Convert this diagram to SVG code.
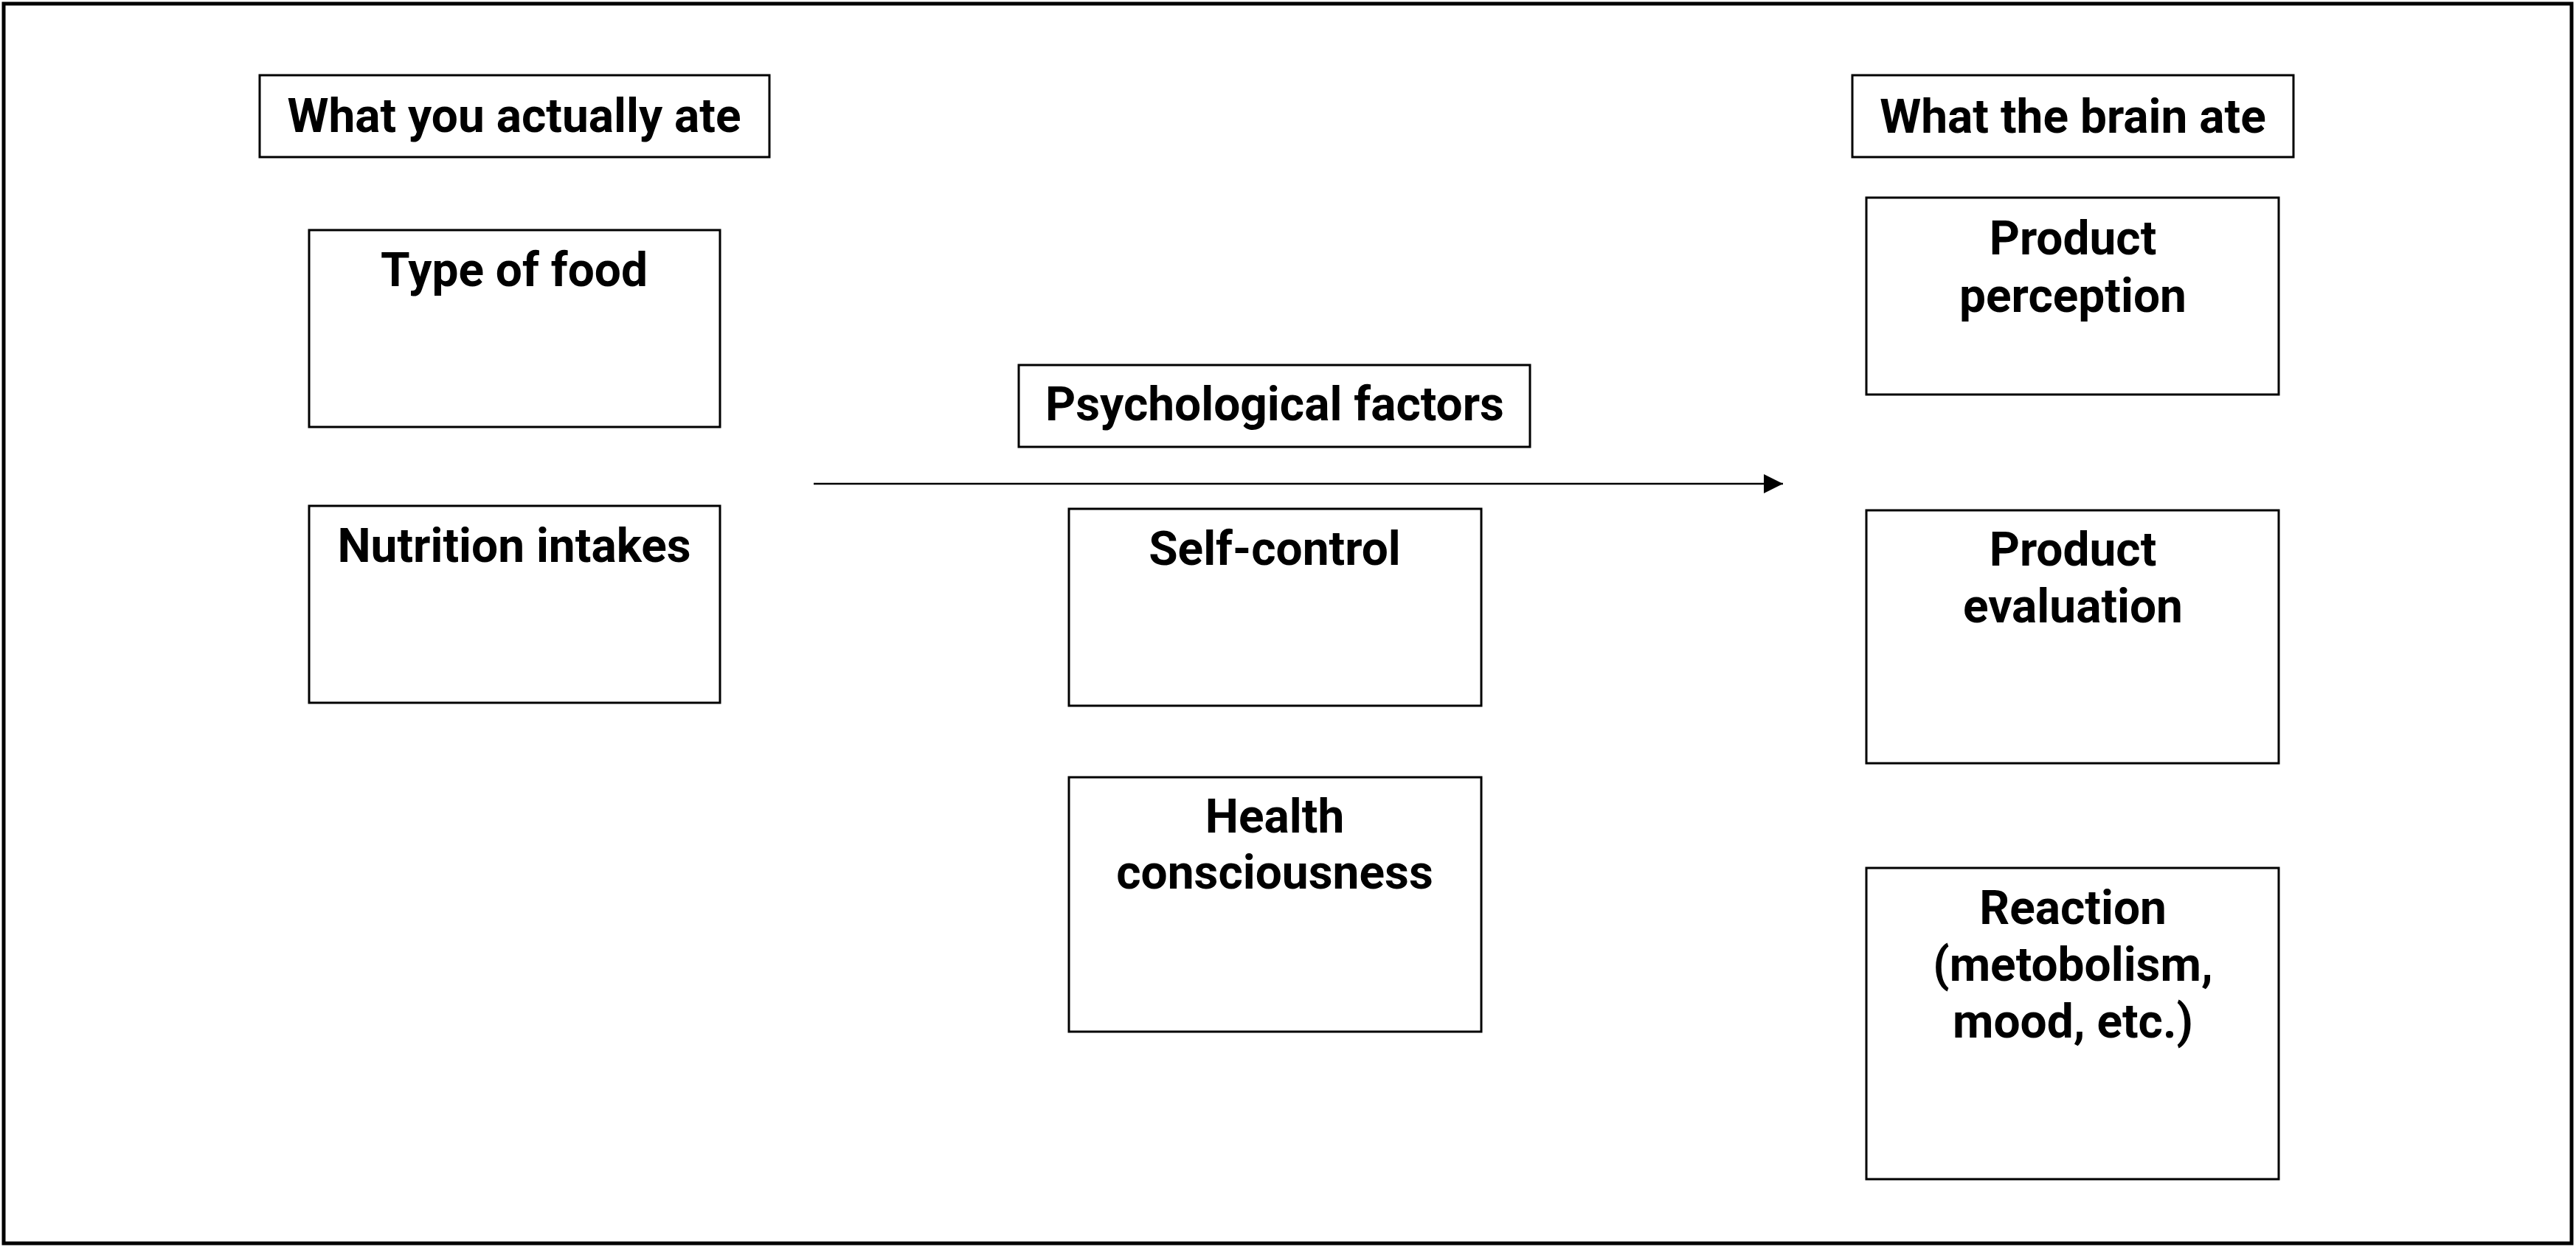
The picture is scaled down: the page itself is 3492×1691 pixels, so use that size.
<svg xmlns="http://www.w3.org/2000/svg" width="3492" height="1691" viewBox="0 0 3492 1691">
<style>
.box{fill:#fff;stroke:#000;stroke-width:3}
.t{font-family:Roboto,"Liberation Sans",sans-serif;font-weight:700;font-size:64px;fill:#000;text-anchor:middle}
</style>
<defs>
<marker id="ah" markerUnits="userSpaceOnUse" markerWidth="26" markerHeight="26" refX="26" refY="13" orient="auto">
<path d="M0,0 L26,13 L0,26 Z" fill="#000"/>
</marker>
</defs>
<rect x="0" y="0" width="3492" height="1691" fill="#fff"/>
<rect x="5" y="5" width="3481" height="1681" fill="none" stroke="#000" stroke-width="5"/>
<g id="connectors">
<line x1="1103" y1="656" x2="2417" y2="656" stroke="#000" stroke-width="2.5" marker-end="url(#ah)"/>
</g>
<g id="n-actual"><rect class="box" x="352" y="102" width="691" height="111"/><text class="t" x="697" y="179">What you actually ate</text></g>
<g id="n-type"><rect class="box" x="419" y="312" width="557" height="267"/><text class="t" x="697" y="388">Type of food</text></g>
<g id="n-nutrition"><rect class="box" x="419" y="686" width="557" height="267"/><text class="t" x="697" y="762">Nutrition intakes</text></g>
<g id="n-psych"><rect class="box" x="1381" y="495" width="693" height="111"/><text class="t" x="1728" y="570">Psychological factors</text></g>
<g id="n-self"><rect class="box" x="1449" y="690" width="559" height="267"/><text class="t" x="1728" y="766">Self-control</text></g>
<g id="n-health"><rect class="box" x="1449" y="1054" width="559" height="345"/><text class="t" x="1728" y="1129">Health</text><text class="t" x="1728" y="1205">consciousness</text></g>
<g id="n-brain"><rect class="box" x="2511" y="102" width="598" height="111"/><text class="t" x="2810" y="180">What the brain ate</text></g>
<g id="n-perception"><rect class="box" x="2530" y="268" width="559" height="267"/><text class="t" x="2810" y="345">Product</text><text class="t" x="2810" y="423">perception</text></g>
<g id="n-evaluation"><rect class="box" x="2530" y="692" width="559" height="343"/><text class="t" x="2810" y="767">Product</text><text class="t" x="2810" y="844">evaluation</text></g>
<g id="n-reaction"><rect class="box" x="2530" y="1177" width="559" height="422"/><text class="t" x="2810" y="1253">Reaction</text><text class="t" x="2810" y="1330">(metobolism,</text><text class="t" x="2810" y="1407">mood, etc.)</text></g>
</svg>
